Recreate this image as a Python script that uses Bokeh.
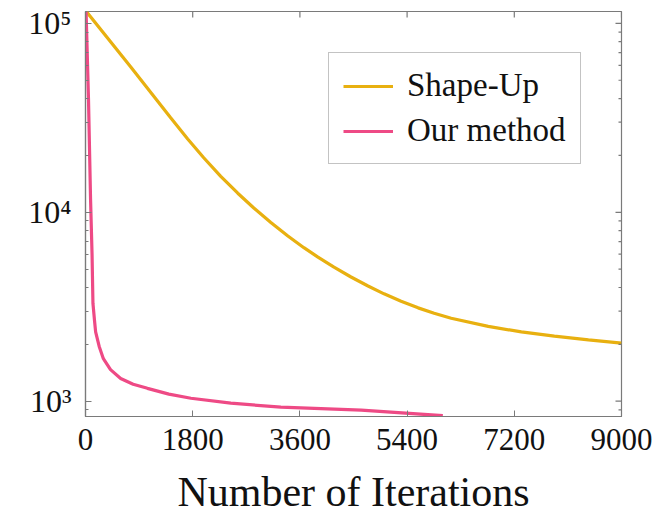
import math
from bokeh.plotting import figure
from bokeh.models import Range1d, FixedTicker, Legend, LegendItem
from bokeh.embed import file_html
from bokeh.resources import INLINE

# ---- data ----
shape_up_x = [20, 757, 1430, 1716, 1985, 2271, 2557, 2826, 3112, 3398, 3667, 3903, 4172, 4458,
              4744, 5013, 5299, 5585, 5854, 6140, 6762, 7318, 7873, 8445, 9000]
shape_up_y = [115000, 59030, 31623, 24430, 19450, 15505, 12620, 10535, 8828, 7485, 6497, 5790, 5123, 4545,
              4074, 3702, 3381, 3120, 2923, 2748, 2490, 2327, 2209, 2112, 2030]

ours_x = [10, 50, 85, 110, 125, 150, 170, 230, 300, 420, 590, 800, 1040, 1400, 1770, 2440, 3280, 4630, 6000]
ours_y = [115000, 40000, 11700, 6000, 3300, 2700, 2330, 1950, 1680, 1470, 1320, 1230, 1170, 1090, 1037, 976, 930, 897, 838]

x_ticks = [0, 1800, 3600, 5400, 7200, 9000]
y_ticks = [1000, 10000, 100000]
y_tick_labels = {1000: "10³", 10000: "10⁴", 100000: "10⁵"}

X_MIN, X_MAX = 0, 9000
Y_MIN, Y_MAX = 830, 115600

FONT = "Liberation Serif"
FRAME = "#7a7a7a"

p = figure(width=661, height=517, y_axis_type="log",
           x_range=Range1d(X_MIN, X_MAX), y_range=Range1d(Y_MIN, Y_MAX),
           output_backend="svg", toolbar_location=None,
           min_border_left=85, min_border_right=40, min_border_top=11, min_border_bottom=99)
p.grid.visible = False
p.outline_line_color = FRAME
p.outline_line_width = 1.2
p.background_fill_color = "white"
p.border_fill_color = "white"

minor = [dec * m for dec in [100, 1000, 10000, 100000] for m in range(2, 10)]
minor_in = [v for v in minor if Y_MIN <= v <= Y_MAX]

r1 = p.line(shape_up_x, shape_up_y, line_color="#E8B010", line_width=3.2)
r2 = p.line(ours_x, ours_y, line_color="#EE4A85", line_width=3.2)

xa = p.xaxis[0]
xa.ticker = FixedTicker(ticks=x_ticks)
ya = p.yaxis[0]
ya.ticker = FixedTicker(ticks=y_ticks, minor_ticks=minor)
ya.major_label_overrides = y_tick_labels

for ax in (xa, ya):
    ax.axis_line_color = FRAME
    ax.axis_line_width = 1.2
    ax.major_tick_line_color = FRAME
    ax.minor_tick_line_color = FRAME
    ax.major_tick_in = 6
    ax.major_tick_out = 0
    ax.minor_tick_out = 0
    ax.major_label_text_font = FONT
    ax.major_label_text_color = "#111111"
xa.major_label_text_font_size = "31px"
ya.major_label_text_font_size = "32px"
ya.minor_tick_in = 3
xa.minor_tick_in = 0
xa.major_label_standoff = 12
ya.major_label_standoff = 14

xa.axis_label = "Number of Iterations"
xa.axis_label_text_font = FONT
xa.axis_label_text_font_size = "42px"
xa.axis_label_text_font_style = "normal"
xa.axis_label_text_color = "#111111"
xa.axis_label_standoff = 16

# mirrored ticks on the top and right edges of the box (clipped to the frame)
p.scatter(x_ticks, [Y_MAX] * len(x_ticks), marker="dash", angle=math.pi / 2, size=12,
          line_color=FRAME, line_width=1.2)
p.scatter([X_MAX] * len(y_ticks), y_ticks, marker="dash", size=12,
          line_color=FRAME, line_width=1.2)
p.scatter([X_MAX] * len(minor_in), minor_in, marker="dash", size=6,
          line_color=FRAME, line_width=1.2)

legend = Legend(items=[LegendItem(label="Shape-Up", renderers=[r1]),
                       LegendItem(label="Our method", renderers=[r2])],
                location=(243, 252))
legend.label_text_font = FONT
legend.label_text_font_size = "33px"
legend.label_text_color = "#111111"
legend.glyph_width = 50
legend.glyph_height = 30
legend.label_height = 30
legend.label_standoff = 14
legend.spacing = 8
legend.padding = 14
legend.margin = 0
legend.border_line_color = "#888888"
legend.border_line_width = 1.5
legend.background_fill_alpha = 1
p.add_layout(legend, "center")

open("out.html", "w").write(file_html(p, INLINE))
